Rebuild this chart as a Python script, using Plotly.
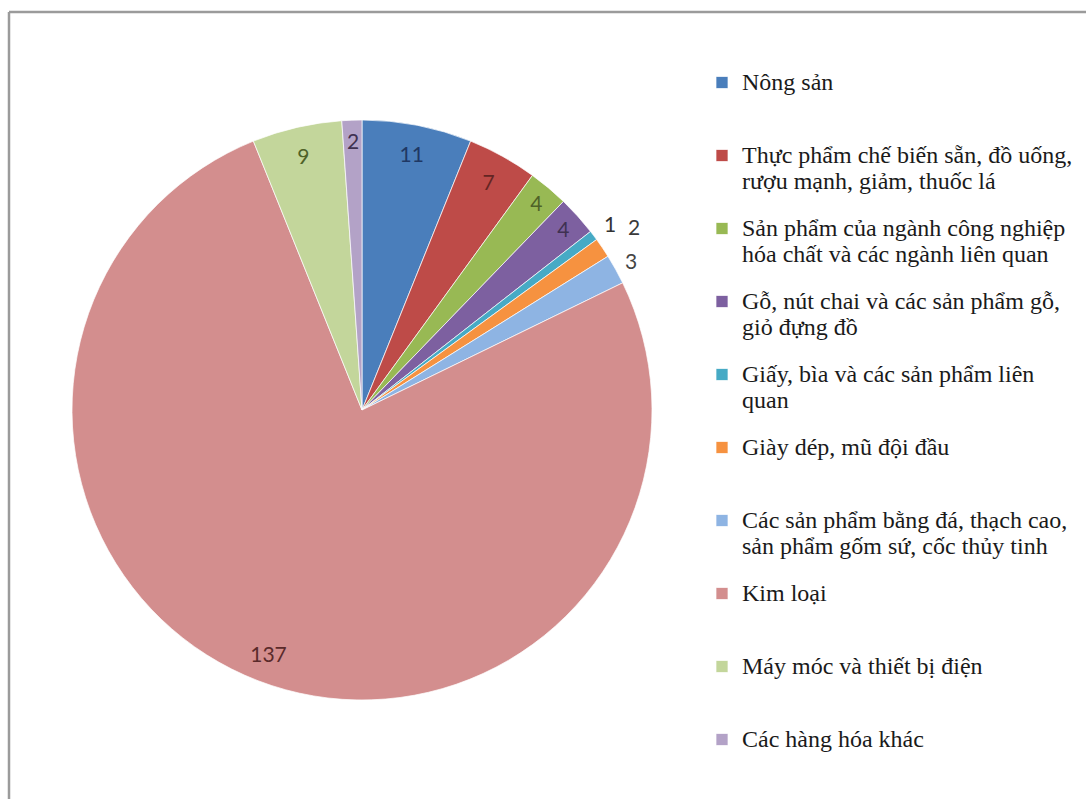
import math
import plotly.graph_objects as go

# Export categories (legend text wraps where "\n" appears)
categories = [
    "Nông sản",
    "Thực phẩm chế biến sẵn, đồ uống,\nrượu mạnh, giảm, thuốc lá",
    "Sản phẩm của ngành công nghiệp\nhóa chất và các ngành liên quan",
    "Gỗ, nút chai và các sản phẩm gỗ,\ngiỏ đựng đồ",
    "Giấy, bìa và các sản phẩm liên\nquan",
    "Giày dép, mũ đội đầu",
    "Các sản phẩm bằng đá, thạch cao,\nsản phẩm gốm sứ, cốc thủy tinh",
    "Kim loại",
    "Máy móc và thiết bị điện",
    "Các hàng hóa khác",
]
values = [11, 7, 4, 4, 1, 2, 3, 137, 9, 2]

slice_colors = ["#4A7EBB", "#BE4B48", "#98B954", "#7D60A0", "#46AAC5",
                "#F69240", "#8EB4E3", "#D38E8E", "#C3D69B", "#B3A2C7"]
label_colors = ["#1F3864", "#632523", "#4F6228", "#3F3151", "#333333",
                "#3A3A3A", "#444444", "#5A2A2A", "#4F6228", "#3F3151"]

# where each value label sits: "ring" = inside band near the rim,
# a number = annotation at that fraction of the radius
label_place = ["ring", "ring", "ring", "ring", 1.07, 1.13, 1.06, "ring", "ring", 0.93]

W, H = 1086, 799
CX, CY, R = 362, 410, 290
domain = dict(x=[(CX - R) / W, (CX + R) / W],
              y=[(H - CY - R) / H, (H - CY + R) / H])

SERIF = "Liberation Serif"
LEG_PX = 24


def legend_label(name):
    lines = name.split("\n")
    while len(lines) < 2:
        lines.append("\u00a0")
    return "<br>".join(f'<span style="font-size:{LEG_PX}px">{ln}</span>' for ln in lines)


labels = [legend_label(c) for c in categories]
value_text = [str(v) for v in values]

fig = go.Figure()

# invisible spacer entry so each slice gets its own legend group (group gap applies)
fig.add_trace(go.Scatter(
    x=[None], y=[None], mode="markers", name="", legendgroup="spacer",
    showlegend=True, marker=dict(color="rgba(0,0,0,0)", size=1), hoverinfo="skip",
))

fig.add_trace(go.Pie(
    labels=labels, values=values, sort=False, direction="clockwise", rotation=0,
    marker=dict(colors=slice_colors, line=dict(color="rgba(255,255,255,0.7)", width=1)),
    textinfo="none", domain=domain, showlegend=True, hoverinfo="label+value",
))

# value labels for the larger slices, placed in a transparent band at the rim
ring_text = [t if p == "ring" else "" for t, p in zip(value_text, label_place)]
fig.add_trace(go.Pie(
    labels=labels, values=values, sort=False, direction="clockwise", rotation=0,
    hole=0.8, domain=domain, showlegend=False, hoverinfo="skip",
    marker=dict(colors=["rgba(0,0,0,0)"] * len(values), line=dict(width=0)),
    text=ring_text, textinfo="text", textposition="inside",
    insidetextorientation="horizontal",
    insidetextfont=dict(family="Lato", size=21, color=label_colors),
))

# value labels for the thin slices
total = sum(values)
annotations = []
acc = 0
for v, t, p, col in zip(values, value_text, label_place, label_colors):
    mid = 2 * math.pi * (acc + v / 2) / total
    acc += v
    if p == "ring":
        continue
    px = CX + R * p * math.sin(mid)
    py = CY - R * p * math.cos(mid)
    annotations.append(dict(
        x=px / W, y=1 - py / H, xref="paper", yref="paper", text=t,
        showarrow=False, xanchor="center", yanchor="middle",
        font=dict(family="Lato", size=21, color=col),
    ))

# chart frame (top and left edges)
fx, fy = 9 / W, 1 - 12 / H
shapes = [
    dict(type="line", xref="paper", yref="paper", x0=fx, x1=fx, y0=0, y1=fy,
         line=dict(color="#9b9b9b", width=2.5)),
    dict(type="line", xref="paper", yref="paper", x0=fx, x1=1, y0=fy, y1=fy,
         line=dict(color="#9b9b9b", width=2.5)),
]

fig.update_layout(
    width=W, height=H,
    margin=dict(l=0, r=0, t=0, b=0, autoexpand=False),
    paper_bgcolor="white", plot_bgcolor="white",
    font=dict(family=SERIF),
    xaxis=dict(visible=False), yaxis=dict(visible=False),
    annotations=annotations, shapes=shapes,
    legend=dict(
        x=702 / W, xanchor="left", y=1 - 16 / H, yanchor="top",
        font=dict(family=SERIF, size=20, color="#1a1a1a"),
        valign="top", traceorder="grouped", tracegroupgap=18,
    ),
)

fig.write_html("out.html")
